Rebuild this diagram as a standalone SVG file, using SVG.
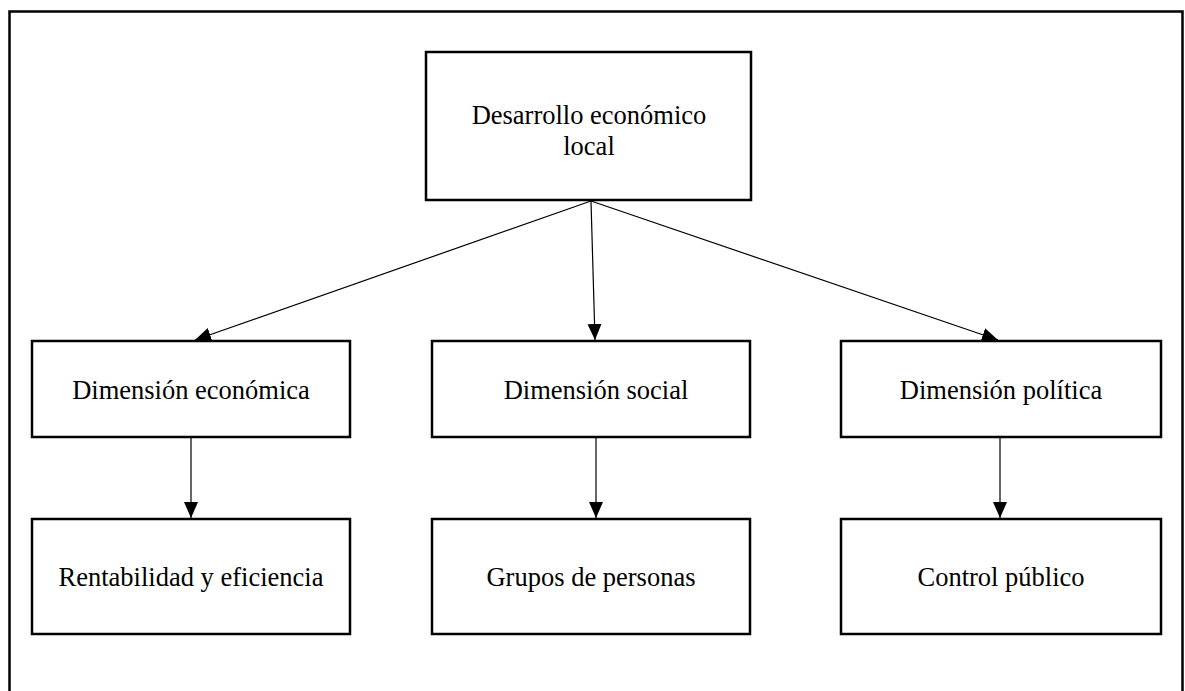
<svg xmlns="http://www.w3.org/2000/svg" width="1185" height="691" viewBox="0 0 1185 691">
  <defs>
    <style>
      .box { fill: #ffffff; stroke: #000000; stroke-width: 2.5; }
      .frame { fill: #ffffff; stroke: #000000; stroke-width: 2.5; }
      .lbl { font-family: "Liberation Serif", "Times New Roman", serif; font-size: 26.5px; fill: #000000; text-anchor: middle; }
      .edge { stroke: #000000; stroke-width: 1.2; fill: none; marker-end: url(#arr); }
    </style>
    <marker id="arr" markerUnits="userSpaceOnUse" markerWidth="18" markerHeight="16" refX="16" refY="7" orient="auto">
      <path d="M0,0 L16,7 L0,14 Z" fill="#000000"/>
    </marker>
  </defs>
  <rect x="0" y="0" width="1185" height="691" fill="#ffffff"/>
  <rect class="frame" x="9.5" y="11.5" width="1173" height="700"/>

  <g id="connectors">
    <line class="edge" x1="591" y1="201" x2="195" y2="340"/>
    <line class="edge" x1="591" y1="201" x2="595" y2="340"/>
    <line class="edge" x1="591" y1="201" x2="998" y2="340"/>
    <line class="edge" x1="191" y1="437" x2="191" y2="518"/>
    <line class="edge" x1="596" y1="437" x2="596" y2="518"/>
    <line class="edge" x1="1000" y1="437" x2="1000" y2="518"/>
  </g>

  <g id="n-desarrollo">
    <rect class="box" x="426" y="52" width="325" height="148"/>
    <text class="lbl" x="589" y="124">Desarrollo económico</text>
    <text class="lbl" x="589" y="155">local</text>
  </g>
  <g id="n-economica">
    <rect class="box" x="32" y="341" width="318" height="96"/>
    <text class="lbl" x="191" y="399">Dimensión económica</text>
  </g>
  <g id="n-social">
    <rect class="box" x="432" y="341" width="318" height="96"/>
    <text class="lbl" x="596" y="399">Dimensión social</text>
  </g>
  <g id="n-politica">
    <rect class="box" x="841" y="341" width="320" height="96"/>
    <text class="lbl" x="1001" y="399">Dimensión política</text>
  </g>
  <g id="n-rentabilidad">
    <rect class="box" x="32" y="519" width="318" height="115"/>
    <text class="lbl" x="191" y="586">Rentabilidad y eficiencia</text>
  </g>
  <g id="n-grupos">
    <rect class="box" x="432" y="519" width="318" height="115"/>
    <text class="lbl" x="591" y="586">Grupos de personas</text>
  </g>
  <g id="n-control">
    <rect class="box" x="841" y="519" width="320" height="115"/>
    <text class="lbl" x="1001" y="586">Control público</text>
  </g>
</svg>
